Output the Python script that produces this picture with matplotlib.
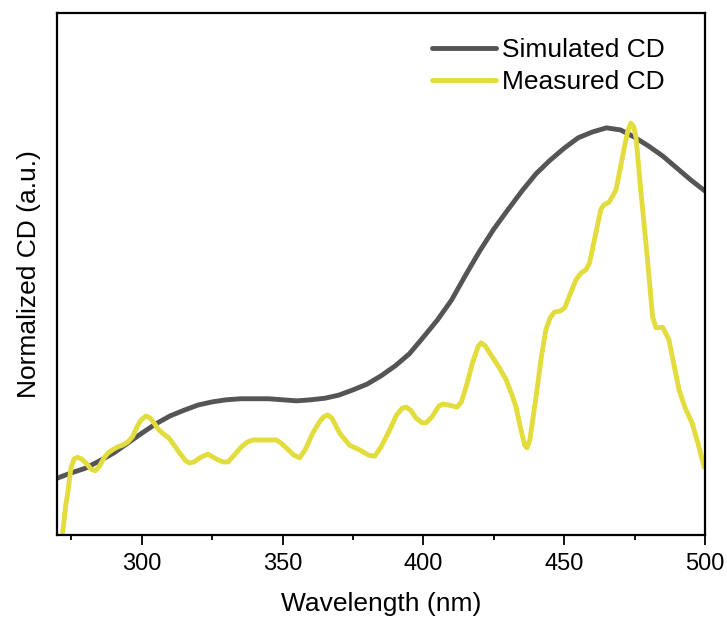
import matplotlib
matplotlib.use("Agg")
import matplotlib.pyplot as plt
from matplotlib.ticker import MultipleLocator

plt.rcParams['font.family'] = ['Liberation Sans', 'DejaVu Sans']

sim_wl = [270, 275, 280, 285, 290, 295, 300, 305, 310, 315, 320, 325, 330, 335,
          340, 345, 350, 355, 360, 365, 370, 375, 380, 385, 390, 395, 400, 405,
          410, 415, 420, 425, 430, 435, 440, 445, 450, 455, 460, 465, 470, 475,
          480, 485, 490, 495, 500]
sim_cd = [0.109, 0.119, 0.128, 0.142, 0.157, 0.176, 0.195, 0.213, 0.228, 0.239,
          0.249, 0.255, 0.259, 0.261, 0.261, 0.261, 0.259, 0.257, 0.259, 0.262,
          0.268, 0.278, 0.289, 0.305, 0.324, 0.347, 0.379, 0.412, 0.450, 0.498,
          0.544, 0.586, 0.623, 0.659, 0.692, 0.718, 0.741, 0.761, 0.772, 0.780,
          0.776, 0.762, 0.745, 0.726, 0.703, 0.680, 0.659]

meas_wl = [271.9, 273.0, 273.7, 274.9, 276.0, 277.2, 278.5, 280.2, 282.0, 283.5,
           285.0, 286.6, 288.0, 289.6, 291.5, 293.2, 295.0, 296.7, 298.5, 299.7,
           301.5, 303.0, 304.3, 305.8, 307.4, 309.6, 311.5, 313.2, 315.6, 317.0,
           318.5, 321.0, 323.5, 325.3, 327.0, 329.0, 330.6, 332.5, 335.4, 337.5,
           339.4, 343.0, 347.8, 349.5, 351.3, 354.0, 356.1, 358.0, 360.7, 363.0,
           364.5, 366.0, 367.5, 370.3, 373.8, 377.4, 380.5, 382.7, 385.0, 388.0,
           390.5, 392.5, 393.9, 395.5, 397.4, 399.5, 401.0, 403.0, 405.5, 407.0,
           409.0, 412.0, 413.5, 415.2, 417.5, 419.5, 420.5, 422.0, 424.5, 427.0,
           429.4, 431.5, 432.9, 434.5, 436.0, 436.8, 437.8, 440.0, 442.0, 443.5,
           445.0, 446.5, 448.5, 450.2, 452.0, 454.2, 456.0, 457.7, 459.0, 461.3,
           463.0, 464.0, 466.0, 468.4, 470.7, 472.5, 473.7, 474.7, 475.5, 477.3,
           479.6, 481.4, 482.6, 485.0, 487.2, 489.0, 490.8, 493.0, 495.4, 497.5,
           499.7]
meas_cd = [0.004, 0.057, 0.080, 0.130, 0.146, 0.149, 0.146, 0.138, 0.126, 0.123,
           0.132, 0.148, 0.157, 0.163, 0.169, 0.172, 0.178, 0.188, 0.209, 0.220,
           0.228, 0.224, 0.215, 0.203, 0.195, 0.186, 0.172, 0.159, 0.142, 0.138,
           0.140, 0.149, 0.155, 0.149, 0.144, 0.140, 0.140, 0.151, 0.169, 0.178,
           0.182, 0.182, 0.182, 0.176, 0.167, 0.153, 0.148, 0.163, 0.195, 0.216,
           0.226, 0.230, 0.224, 0.195, 0.172, 0.163, 0.153, 0.151, 0.169, 0.201,
           0.230, 0.243, 0.245, 0.239, 0.224, 0.215, 0.215, 0.226, 0.247, 0.251,
           0.249, 0.245, 0.255, 0.284, 0.331, 0.362, 0.368, 0.362, 0.341, 0.320,
           0.297, 0.268, 0.245, 0.205, 0.172, 0.167, 0.182, 0.264, 0.345, 0.393,
           0.416, 0.427, 0.429, 0.435, 0.460, 0.489, 0.502, 0.508, 0.521, 0.580,
           0.623, 0.632, 0.638, 0.661, 0.724, 0.772, 0.789, 0.782, 0.762, 0.655,
           0.527, 0.418, 0.397, 0.398, 0.374, 0.326, 0.278, 0.243, 0.215, 0.176,
           0.130]

fig = plt.figure(figsize=(7.27, 6.19), dpi=100)
ax = fig.add_axes([0.0788, 0.1357, 0.8909, 0.8433])

ax.plot(sim_wl, sim_cd, color='#555555', lw=3.5, label='Simulated CD',
        solid_joinstyle='round', solid_capstyle='round')
ax.plot(meas_wl, meas_cd, color='#E2DC3C', lw=3.5, label='Measured CD',
        solid_joinstyle='round', solid_capstyle='round')

ax.set_xlim(270, 500)
ax.set_ylim(0, 1)
ax.xaxis.set_major_locator(MultipleLocator(50))
ax.xaxis.set_minor_locator(MultipleLocator(25))
ax.set_yticks([])
ax.tick_params(axis='x', which='major', direction='out', length=7, width=1.3,
               labelsize=17, pad=6)
ax.tick_params(axis='x', which='minor', direction='out', length=3.5, width=1.3)
for s in ax.spines.values():
    s.set_linewidth(1.6)

ax.set_xlabel('Wavelength (nm)', fontsize=19, labelpad=12)
ax.set_ylabel('Normalized CD (a.u.)', fontsize=19, labelpad=12)

leg = ax.legend(loc='upper right', bbox_to_anchor=(0.967, 0.987), frameon=False,
                fontsize=19, handlelength=2.4, handletextpad=0.25,
                labelspacing=0.3, borderaxespad=0.3)
for line in leg.get_lines():
    line.set_linewidth(3.5)

fig.savefig('out.png', dpi=100)
